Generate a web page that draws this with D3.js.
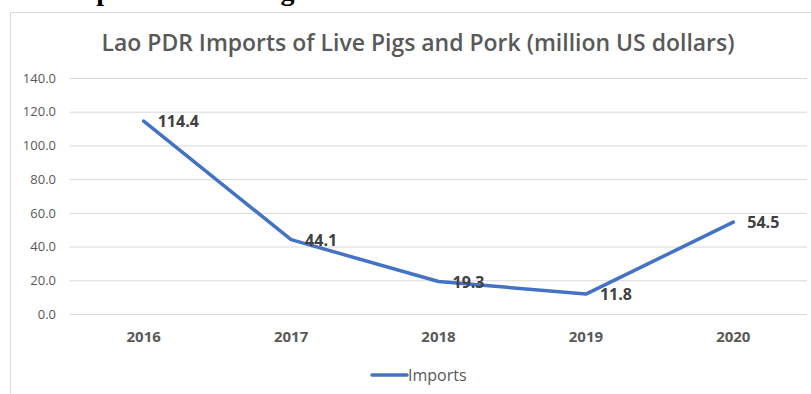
<!DOCTYPE html>
<html>
<head>
<meta http-equiv="Content-Type" content="text/html;charset=utf-8"/>
<script src="https://d3js.org/d3.v7.min.js"></script>
<style type="text/css">
body { margin: 0; background: #fff; }
.grid line { stroke: #d9d9d9; stroke-width: 1px; }
.grid text { fill: #595959; font: 13px "Open Sans", sans-serif; }
.xaxis text { fill: #595959; font: bold 15px "Open Sans", sans-serif; }
.series { fill: none; stroke: #4472c4; stroke-width: 3.5px; stroke-linejoin: round; stroke-linecap: round; }
.label { fill: #404040; font: bold 16px "Open Sans", sans-serif; }
</style>
</head>
<body>
<script>

var years = ["2016", "2017", "2018", "2019", "2020"];
var imports = [114.4, 44.1, 19.3, 11.8, 54.5];
var yTicks = [0, 20, 40, 60, 80, 100, 120, 140];
var seriesName = "Imports";
var title = "Lao PDR Imports of Live Pigs and Pork (million US dollars)";

var width = 811, height = 394;
var plotLeft = 70, plotRight = 807, plotTop = 78, plotBottom = 314;

var svg = d3.select("body").append("svg")
    .attr("width", width)
    .attr("height", height);

// heading of the page above the chart, mostly cut off
svg.append("text")
    .attr("x", 62)
    .attr("y", 0)
    .style("font", "bold 28px 'Liberation Serif', serif")
    .style("fill", "#000")
    .text("Imports of Live Pig and Pork");

// chart frame
svg.append("rect")
    .attr("x", 10.5)
    .attr("y", 12.5)
    .attr("width", 900)
    .attr("height", 500)
    .attr("fill", "#fff")
    .attr("stroke", "#d9d9d9");

svg.append("text")
    .attr("x", 418)
    .attr("y", 51)
    .attr("text-anchor", "middle")
    .attr("textLength", 633)
    .attr("lengthAdjust", "spacingAndGlyphs")
    .style("font", "600 24px 'Open Sans', sans-serif")
    .style("fill", "#595959")
    .text(title);

var x = d3.scaleBand()
    .domain(years)
    .range([plotLeft, plotRight]);

var y = d3.scaleLinear()
    .domain([0, 140])
    .range([plotBottom, plotTop]);

var xc = function(d) { return x(d) + x.bandwidth() / 2; };

svg.append("g")
    .attr("class", "grid")
    .attr("transform", "translate(" + plotLeft + ",0)")
    .call(d3.axisLeft(y)
        .tickValues(yTicks)
        .tickSize(-(plotRight - plotLeft))
        .tickPadding(14)
        .tickFormat(d3.format(".1f")))
    .call(function(g) { g.select(".domain").remove(); });

svg.append("g")
    .attr("class", "xaxis")
    .attr("transform", "translate(0," + plotBottom + ")")
    .call(d3.axisBottom(x).tickSize(0).tickPadding(17))
    .call(function(g) { g.select(".domain").remove(); });

var line = d3.line()
    .x(function(d, i) { return xc(years[i]); })
    .y(function(d) { return y(d); });

svg.append("path")
    .datum(imports)
    .attr("class", "series")
    .attr("d", line);

svg.selectAll(".label")
    .data(imports)
    .enter().append("text")
    .attr("class", "label")
    .attr("x", function(d, i) { return xc(years[i]) + 14; })
    .attr("y", function(d) { return y(d); })
    .attr("dy", "0.38em")
    .text(function(d) { return d3.format(".1f")(d); });

// legend
var lg = svg.append("g").attr("transform", "translate(372,375)");
lg.append("line")
    .attr("x1", 0).attr("x2", 35)
    .attr("stroke", "#4472c4")
    .attr("stroke-width", 3.5)
    .attr("stroke-linecap", "round");
lg.append("text")
    .attr("x", 36)
    .attr("dy", "0.36em")
    .style("font", "16px 'Open Sans', sans-serif")
    .style("fill", "#595959")
    .text(seriesName);

</script>
</body>
</html>
